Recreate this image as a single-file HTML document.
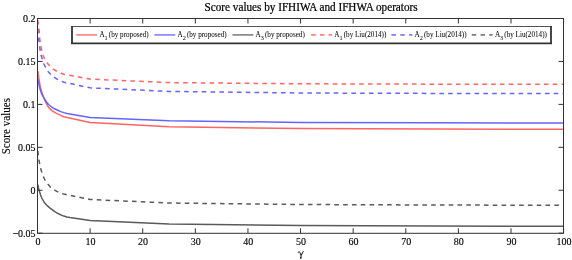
<!DOCTYPE html>
<html><head><meta charset="utf-8"><style>
html,body{margin:0;padding:0;background:#fff;}
svg{display:block;will-change:transform;}
text{font-family:"Liberation Serif",serif;fill:#000;stroke:#000;stroke-width:0.12px;}
.tl text{stroke-width:0.14px;}
polyline,line{fill:none;stroke-width:1.5;stroke-linejoin:round;}
</style></head><body>
<svg width="572" height="260" viewBox="0 0 572 260">
<polyline points="37.90,71.00 38.40,75.00 39.00,79.00 39.60,83.00 40.40,87.00 41.30,90.50 42.30,93.50 43.10,96.00 44.30,99.00 45.80,102.50 47.50,105.70 49.80,108.60 52.00,110.60 56.00,113.10 59.80,114.90 63.80,116.70 90.10,122.45 169.00,126.85 300.50,128.50 432.00,129.00 563.60,129.30" stroke="#ff6464" />
<polyline points="37.90,78.50 38.40,81.50 39.00,84.50 39.80,88.00 40.80,91.50 42.00,94.50 42.90,96.00 44.50,99.00 46.50,102.00 48.50,104.50 50.40,106.00 53.30,108.20 57.90,110.30 60.80,111.60 63.80,112.65 67.00,113.50 90.10,117.40 169.00,120.80 300.50,122.45 432.00,122.80 563.60,123.00" stroke="#6464ff" />
<polyline points="37.80,184.60 38.60,188.50 39.50,191.50 40.60,195.00 41.80,198.00 42.90,200.00 44.10,202.20 47.50,205.90 49.80,207.80 54.70,211.60 59.60,214.30 62.00,215.40 63.80,216.10 67.00,216.90 70.00,217.50 90.10,220.45 169.00,224.00 300.50,225.40 432.00,225.90 563.60,226.30" stroke="#5a5a5a" />
<polyline points="37.60,19.60 38.20,23.00 38.80,27.00 39.20,31.00 39.50,36.00 39.90,40.00 40.50,44.00 41.30,48.00 42.20,52.00 43.30,56.00 44.80,59.00 46.80,62.50 49.80,66.00 52.50,68.60 56.40,71.00 60.60,72.90 63.80,74.20 90.10,79.10 169.00,82.60 300.50,83.80 432.00,84.15 563.60,84.30" stroke="#ff6464" stroke-dasharray="4.6 4.2" stroke-dashoffset="-0.4" />
<polyline points="37.80,28.40 38.00,31.00 38.40,36.00 38.90,41.00 39.60,46.00 40.10,50.00 41.00,55.00 42.50,59.60 43.60,63.50 45.60,67.50 47.50,70.90 50.60,74.30 53.70,77.00 57.50,79.30 61.00,81.00 63.80,82.20 90.10,87.85 169.00,91.40 300.50,93.00 432.00,93.40 563.60,93.60" stroke="#6464ff" stroke-dasharray="4.6 4.2" stroke-dashoffset="-0.4" />
<polyline points="37.80,150.20 38.10,154.00 38.60,158.00 39.30,162.00 40.20,166.50 41.40,171.00 42.90,175.50 44.60,179.30 47.00,183.20 50.20,186.80 53.30,189.30 56.80,191.40 60.50,193.00 63.80,194.10 90.10,199.50 169.00,203.00 300.50,204.50 432.00,205.00 563.60,205.30" stroke="#5a5a5a" stroke-dasharray="4.6 4.2" stroke-dashoffset="-0.6" />
<path d="M37.50,233.3V228.3M37.50,18.5V23.5M90.11,233.3V228.3M90.11,18.5V23.5M142.72,233.3V228.3M142.72,18.5V23.5M195.33,233.3V228.3M195.33,18.5V23.5M247.94,233.3V228.3M247.94,18.5V23.5M300.55,233.3V228.3M300.55,18.5V23.5M353.16,233.3V228.3M353.16,18.5V23.5M405.77,233.3V228.3M405.77,18.5V23.5M458.38,233.3V228.3M458.38,18.5V23.5M510.99,233.3V228.3M510.99,18.5V23.5M563.60,233.3V228.3M563.60,18.5V23.5M37.5,18.50H42.5M563.5,18.50H558.5M37.5,61.44H42.5M563.5,61.44H558.5M37.5,104.38H42.5M563.5,104.38H558.5M37.5,147.32H42.5M563.5,147.32H558.5M37.5,190.26H42.5M563.5,190.26H558.5M37.5,233.20H42.5M563.5,233.20H558.5" stroke="#333333" stroke-width="1" />
<rect x="37.5" y="18.5" width="526.0" height="214.8" stroke="#333333" stroke-width="1" fill="none"/>
<g font-size="10" class="tl"><text x="37.90" y="245" text-anchor="middle">0</text><text x="90.51" y="245" text-anchor="middle">10</text><text x="143.12" y="245" text-anchor="middle">20</text><text x="195.73" y="245" text-anchor="middle">30</text><text x="248.34" y="245" text-anchor="middle">40</text><text x="300.95" y="245" text-anchor="middle">50</text><text x="353.56" y="245" text-anchor="middle">60</text><text x="406.17" y="245" text-anchor="middle">70</text><text x="458.78" y="245" text-anchor="middle">80</text><text x="511.39" y="245" text-anchor="middle">90</text><text x="564.00" y="245" text-anchor="middle">100</text></g>
<g font-size="10" class="tl"><text transform="translate(35.5,22.35) scale(1,1.1)" text-anchor="end">0.2</text><text transform="translate(35.5,65.29) scale(1,1.1)" text-anchor="end">0.15</text><text transform="translate(35.5,108.23) scale(1,1.1)" text-anchor="end">0.1</text><text transform="translate(35.5,151.17) scale(1,1.1)" text-anchor="end">0.05</text><text transform="translate(35.5,194.11) scale(1,1.1)" text-anchor="end">0</text><text transform="translate(35.5,237.05) scale(1,1.1)" text-anchor="end">−0.05</text></g>
<text transform="translate(204.6,10.7) scale(1,1.07)" font-size="11.2" style="stroke-width:0.22px">Score values by IFHIWA and IFHWA operators</text>
<path d="M298.1,252.6C298.5,251.4 299.3,251.2 299.9,252.4L301.1,255.6M303.3,251.3L301.2,255.4L300.9,257.9" stroke="#111" stroke-width="1.0" fill="none"/><ellipse cx="300.8" cy="257.9" rx="0.75" ry="1.0" fill="#111"/>
<text transform="translate(10.1,154.3) rotate(-90)" font-size="12.6" textLength="56.3" lengthAdjust="spacingAndGlyphs">Score values</text>
<rect x="71" y="26" width="481" height="18.4" fill="#fff"/>
<path d="M71,26.5H552" stroke="#555" stroke-width="1"/>
<path d="M72,26V44.3M551,26V44.3M71,43.4H552" stroke="#333" stroke-width="1.8"/>
<line x1="76.2" y1="34.9" x2="97.2" y2="34.9" stroke="#ff8080" style="stroke-width:1.6" />
<text transform="translate(99.4,36.5) scale(0.446,0.47)" font-size="16" style="stroke-width:0.05px">A<tspan dy="7.6" font-size="14">1</tspan><tspan dy="-7.6" dx="2.5">(by proposed)</tspan></text>
<line x1="154.3" y1="34.9" x2="175.3" y2="34.9" stroke="#8080ff" style="stroke-width:1.6" />
<text transform="translate(177.5,36.5) scale(0.446,0.47)" font-size="16" style="stroke-width:0.05px">A<tspan dy="7.6" font-size="14">2</tspan><tspan dy="-7.6" dx="2.5">(by proposed)</tspan></text>
<line x1="232.4" y1="34.9" x2="253.4" y2="34.9" stroke="#808080" style="stroke-width:1.6" />
<text transform="translate(255.6,36.5) scale(0.446,0.47)" font-size="16" style="stroke-width:0.05px">A<tspan dy="7.6" font-size="14">3</tspan><tspan dy="-7.6" dx="2.5">(by proposed)</tspan></text>
<line x1="311.1" y1="34.9" x2="332.1" y2="34.9" stroke="#ff8080" style="stroke-width:1.6" stroke-dasharray="4.6 4.2" />
<text transform="translate(334.3,36.5) scale(0.446,0.47)" font-size="16" style="stroke-width:0.05px">A<tspan dy="7.6" font-size="14">1</tspan><tspan dy="-7.6" dx="2.5">(by Liu(2014))</tspan></text>
<line x1="391.4" y1="34.9" x2="412.4" y2="34.9" stroke="#8080ff" style="stroke-width:1.6" stroke-dasharray="4.6 4.2" />
<text transform="translate(414.59999999999997,36.5) scale(0.446,0.47)" font-size="16" style="stroke-width:0.05px">A<tspan dy="7.6" font-size="14">2</tspan><tspan dy="-7.6" dx="2.5">(by Liu(2014))</tspan></text>
<line x1="471.7" y1="34.9" x2="492.7" y2="34.9" stroke="#808080" style="stroke-width:1.6" stroke-dasharray="4.6 4.2" />
<text transform="translate(494.9,36.5) scale(0.446,0.47)" font-size="16" style="stroke-width:0.05px">A<tspan dy="7.6" font-size="14">3</tspan><tspan dy="-7.6" dx="2.5">(by Liu(2014))</tspan></text>
</svg>
</body></html>
